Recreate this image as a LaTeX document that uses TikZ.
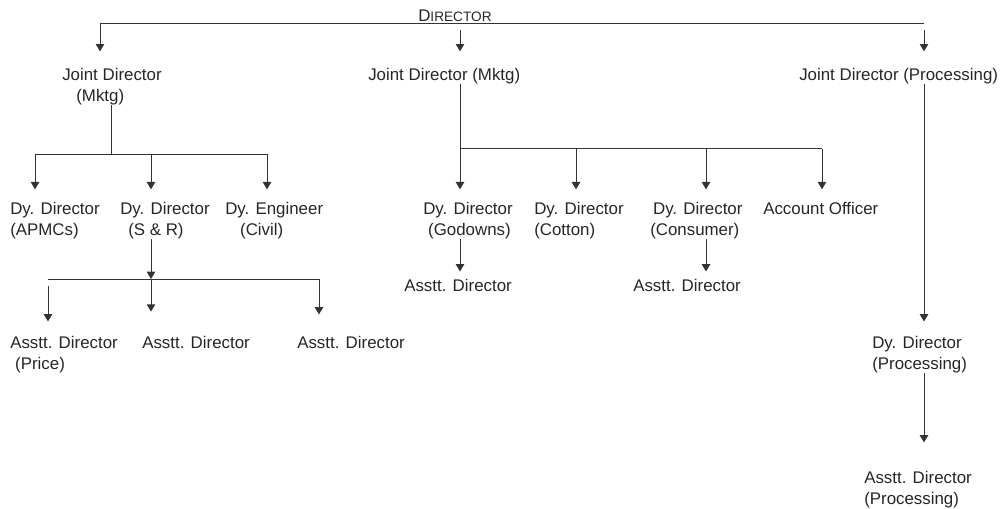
\documentclass[tikz,border=0pt]{standalone}
\usepackage{fontspec}
\setmainfont{Liberation Sans}
\usetikzlibrary{arrows.meta}
\usetikzlibrary{positioning, calc}

\begin{document}
\begin{tikzpicture}[x=0.025cm, y=-0.025cm,
    post/.style={inner sep=0pt, anchor=base west, align=left, text=black!85, font=\fontsize{12}{14.9}\selectfont},
    link/.style={black!80, line width=0.7pt},
    arw/.style={link, -{Triangle[length=5.2pt, width=6pt]}},
]
    \useasboundingbox (0,0) rectangle (1007,508);

    % top level (two-line nodes sit on their last baseline)
    \node[post] (dir) at (418,21) {D{\fontsize{9.7}{12}\selectfont IRECTOR}};
    \node[post] (jd1) at (62,101) {Joint Director\\\hspace*{10pt}(Mktg)};
    \node[post] (jd2) at (368,80) {Joint Director (Mktg)};
    \node[post] (jd3) at (799,80) {Joint Director (Processing)};

    % left branch
    \node[post] (apmc) at (10,235) {Dy. Director\\(APMCs)};
    \node[post] (sr) at (120,235) {Dy. Director\\\hspace*{5.7pt}(S \& R)};
    \node[post] (civil) at (225,235) {Dy. Engineer\\\hspace*{10.6pt}(Civil)};
    \node[post] (price) at (10,369) {Asstt. Director\\\hspace*{3.5pt}(Price)};
    \node[post] (asst2) at (142,348) {Asstt. Director};
    \node[post] (asst3) at (297,348) {Asstt. Director};

    % middle branch
    \node[post] (godown) at (423,235) {Dy. Director\\\hspace*{3.5pt}(Godowns)};
    \node[post] (cotton) at (534,235) {Dy. Director\\(Cotton)};
    \node[post] (consumer) at (650,235) {\hspace*{2pt}Dy. Director\\(Consumer)};
    \node[post] (acc) at (763,214) {Account Officer};
    \node[post] (asst4) at (404,291) {Asstt. Director};
    \node[post] (asst5) at (633,291) {Asstt. Director};

    % right branch
    \node[post] (dyproc) at (872,369) {Dy. Director\\(Processing)};
    \node[post] (asstproc) at (864,504) {Asstt. Director\\(Processing)};

    % Director to joint directors
    \coordinate (t1) at (100,23);
    \coordinate (t2) at (460,30);
    \coordinate (t3) at (924,23);
    \coordinate (t3d) at (924,30);
    \draw[link] (t1) -- (t3);
    \draw[arw, shorten >=11.5pt] (t1) -- (t1 |- jd1.north);
    \draw[arw, shorten >=11.5pt] (t2) -- (t2 |- jd2.north);
    \draw[arw, shorten >=11.5pt] (t3d) -- (t3d |- jd3.north);

    % under jd1
    \coordinate (b1) at (35,154);
    \coordinate (b2) at (151,154);
    \coordinate (b3) at (267,154);
    \draw[link] (jd1.south) -- (jd1.south |- b1);
    \draw[link] (b1) -- (b3);
    \draw[arw, shorten >=8.7pt] (b1) -- (b1 |- apmc.north);
    \draw[arw, shorten >=8.7pt] (b2) -- (b2 |- sr.north);
    \draw[arw, shorten >=8.7pt] (b3) -- (b3 |- civil.north);

    % under sr
    \coordinate (c1) at (48,279);
    \coordinate (c1d) at (48,286);
    \coordinate (c2) at (151,279);
    \coordinate (c3) at (319,279);
    \draw[arw] (c2 |- sr.south) -- (c2);
    \draw[link] (c1) -- (c3);
    \draw[arw, shorten >=10pt] (c1d) -- (c1d |- price.north);
    \draw[arw, shorten >=17pt] (c2) -- (c2 |- asst2.north);
    \draw[arw, shorten >=15pt] (c3) -- (c3 |- asst3.north);

    % under jd2
    \coordinate (d1) at (460,148.5);
    \coordinate (d2) at (576,148.5);
    \coordinate (d3) at (706,148.5);
    \coordinate (d4) at (822,148.5);
    \draw[link] (d1 |- jd2.south) -- (d1) -- (d4);
    \foreach \p/\n in {d1/godown, d2/cotton, d3/consumer, d4/acc} {
        \draw[arw, shorten >=8.7pt] (\p) -- (\p |- \n.north);
    }
    \draw[arw, shorten >=5pt] (d1 |- godown.south) -- (d1 |- asst4.north);
    \draw[arw, shorten >=5pt] (d3 |- consumer.south) -- (d3 |- asst5.north);

    % under jd3
    \draw[arw, shorten >=10pt] (t3 |- jd3.south) -- (t3 |- dyproc.north);
    \draw[arw, shorten >=20pt] (t3 |- dyproc.south) -- (t3 |- asstproc.north);

\end{tikzpicture}
\end{document}
